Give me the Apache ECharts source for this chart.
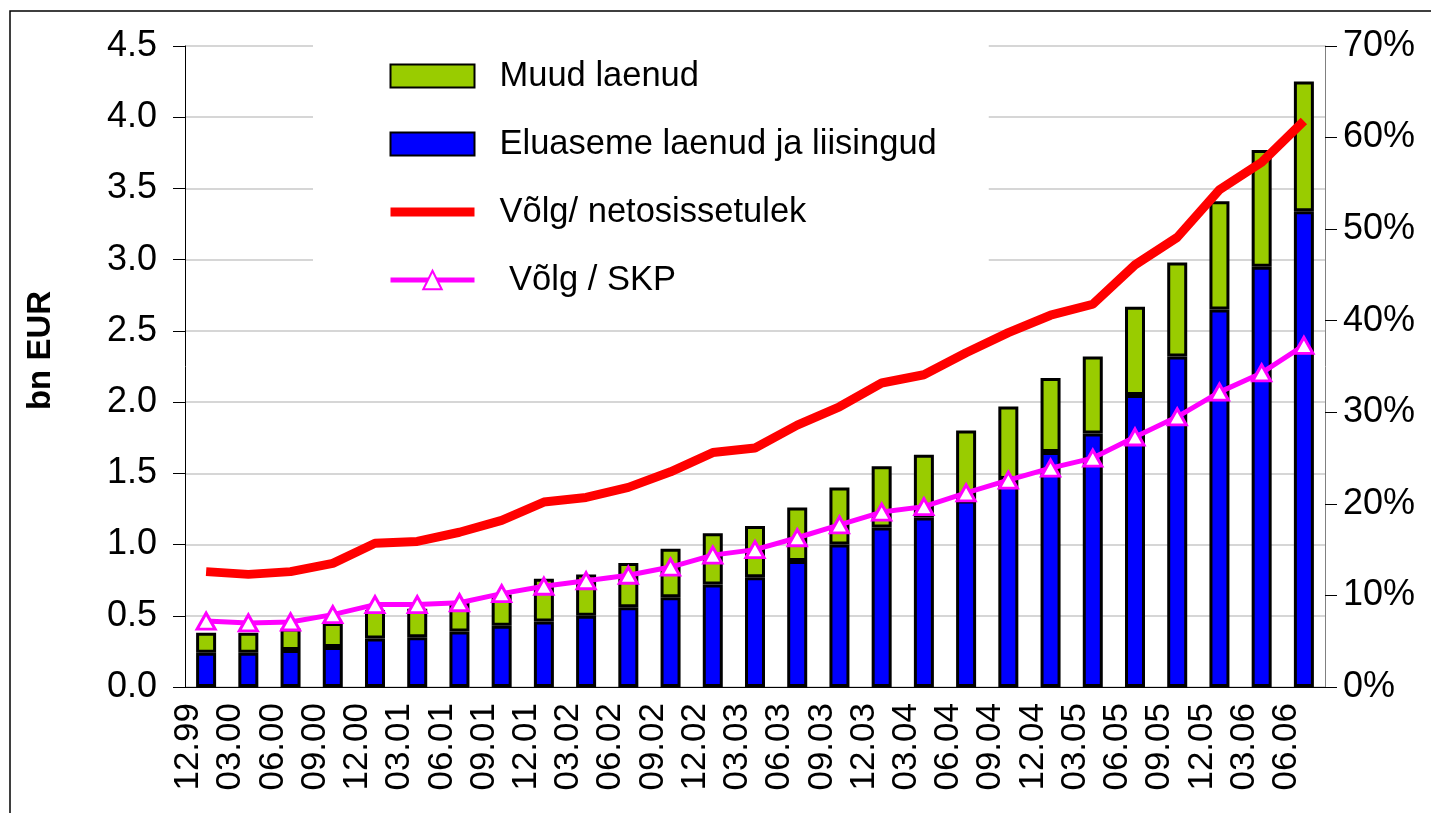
<!doctype html>
<html>
<head>
    <meta charset="utf-8">
    <title>Võlg</title>
    <style>
        html, body { margin: 0; padding: 0; background: #fff; }
        #chartEle { width: 1431px; height: 813px; }
    </style>
</head>
<body>
<div id="chartEle"></div>
<script src="https://cdn.jsdelivr.net/npm/echarts@6/dist/echarts.min.js"></script>
<script>
    // kvartalid
    var categories = ['12.99', '03.00', '06.00', '09.00', '12.00', '03.01', '06.01', '09.01', '12.01',
        '03.02', '06.02', '09.02', '12.02', '03.03', '06.03', '09.03', '12.03', '03.04', '06.04',
        '09.04', '12.04', '03.05', '06.05', '09.05', '12.05', '03.06', '06.06'];
    // bn EUR
    var housingLoans = [0.24, 0.24, 0.26, 0.28, 0.34, 0.35, 0.39, 0.43, 0.46, 0.50, 0.56, 0.63, 0.72, 0.77,
        0.885, 1.00, 1.12, 1.19, 1.31, 1.46, 1.65, 1.78, 2.05, 2.32, 2.65, 2.95, 3.34];
    var otherLoans = [0.14, 0.14, 0.15, 0.17, 0.20, 0.20, 0.20, 0.22, 0.30, 0.29, 0.31, 0.34, 0.36, 0.36,
        0.375, 0.40, 0.43, 0.44, 0.49, 0.51, 0.52, 0.54, 0.62, 0.66, 0.76, 0.82, 0.91];
    // %
    var debtToIncome = [12.6, 12.3, 12.6, 13.5, 15.7, 15.9, 16.9, 18.2, 20.2, 20.7, 21.8, 23.5, 25.6, 26.1,
        28.6, 30.6, 33.2, 34.1, 36.5, 38.7, 40.6, 41.8, 46.1, 49.1, 54.3, 57.3, 61.8];
    var debtToGdp = [7.2, 7.0, 7.1, 7.9, 9.0, 9.0, 9.2, 10.2, 11.0, 11.6, 12.2, 13.1, 14.4, 15.0,
        16.3, 17.7, 19.1, 19.7, 21.2, 22.6, 23.9, 25.0, 27.3, 29.5, 32.2, 34.3, 37.3];

    var font = 'Liberation Sans, Arial, sans-serif';
    var myChart = echarts.init(document.getElementById('chartEle'));
    var option = {
        animation: false,
        textStyle: {fontFamily: font},
        graphic: [{
            type: 'rect',
            shape: {x: 10, y: 11, width: 1440, height: 830},
            style: {fill: 'none', stroke: '#000', lineWidth: 1.5},
            silent: true
        }],
        grid: {left: 185, right: 106, top: 46, bottom: 126},
        legend: {
            orient: 'vertical',
            left: 313,
            top: 34,
            padding: [22, 52, 24, 75],
            backgroundColor: '#fff',
            itemWidth: 84,
            itemHeight: 23,
            itemGap: 28,
            textStyle: {fontSize: 34.5, color: '#000', fontFamily: font, lineHeight: 40, padding: [0, 0, 0, 20]},
            data: [
                {name: 'Muud laenud', icon: 'rect'},
                {name: 'Eluaseme laenud ja liisingud', icon: 'rect'},
                {name: 'Võlg/ netosissetulek', icon: 'path://M0,0H84V9H0Z'},
                {name: ' Võlg / SKP', lineStyle: {width: 5}}
            ]
        },
        xAxis: {
            type: 'category',
            data: categories,
            axisLine: {lineStyle: {color: '#000', width: 1}},
            axisTick: {length: 11, lineStyle: {color: '#000'}},
            axisLabel: {
                rotate: 90,
                fontSize: 35,
                color: '#000',
                margin: 16,
                verticalAlign: 'bottom',
                interval: 0
            }
        },
        yAxis: [{
            type: 'value',
            min: 0,
            max: 4.5,
            interval: 0.5,
            name: 'bn EUR',
            nameLocation: 'middle',
            nameGap: 128,
            nameTextStyle: {fontSize: 33, fontWeight: 'bold', color: '#000', padding: [0, 0, 0, 32]},
            axisLine: {show: true, lineStyle: {color: '#000'}},
            axisTick: {show: true, length: 12, lineStyle: {color: '#000'}},
            axisLabel: {
                fontSize: 36,
                color: '#000',
                margin: 28,
                formatter: function (v) { return v.toFixed(1); }
            },
            splitLine: {lineStyle: {color: '#c8c8c8', width: 1.5}}
        }, {
            type: 'value',
            position: 'right',
            min: 0,
            max: 70,
            interval: 10,
            axisLine: {show: true, lineStyle: {color: '#808080'}},
            axisTick: {show: true, length: 12, lineStyle: {color: '#000'}},
            axisLabel: {fontSize: 36, color: '#000', margin: 18, formatter: '{value}%'},
            splitLine: {show: false}
        }],
        series: [{
            name: 'Eluaseme laenud ja liisingud',
            type: 'bar',
            stack: 'loans',
            barWidth: 20,
            itemStyle: {color: '#0000ff', borderColor: '#000', borderWidth: 3},
            data: housingLoans
        }, {
            name: 'Muud laenud',
            type: 'bar',
            stack: 'loans',
            barWidth: 20,
            itemStyle: {color: '#99cc00', borderColor: '#000', borderWidth: 3},
            data: otherLoans
        }, {
            name: 'Võlg/ netosissetulek',
            type: 'line',
            yAxisIndex: 1,
            symbol: 'none',
            lineStyle: {color: '#ff0000', width: 9},
            itemStyle: {color: '#ff0000'},
            data: debtToIncome,
            z: 3
        }, {
            name: ' Võlg / SKP',
            type: 'line',
            yAxisIndex: 1,
            symbol: 'triangle',
            symbolSize: [18, 16],
            lineStyle: {color: '#ff00ff', width: 5},
            itemStyle: {color: '#fff', borderColor: '#ff00ff', borderWidth: 3},
            data: debtToGdp,
            z: 4
        }]
    };
    myChart.setOption(option);
</script>
</body>
</html>
